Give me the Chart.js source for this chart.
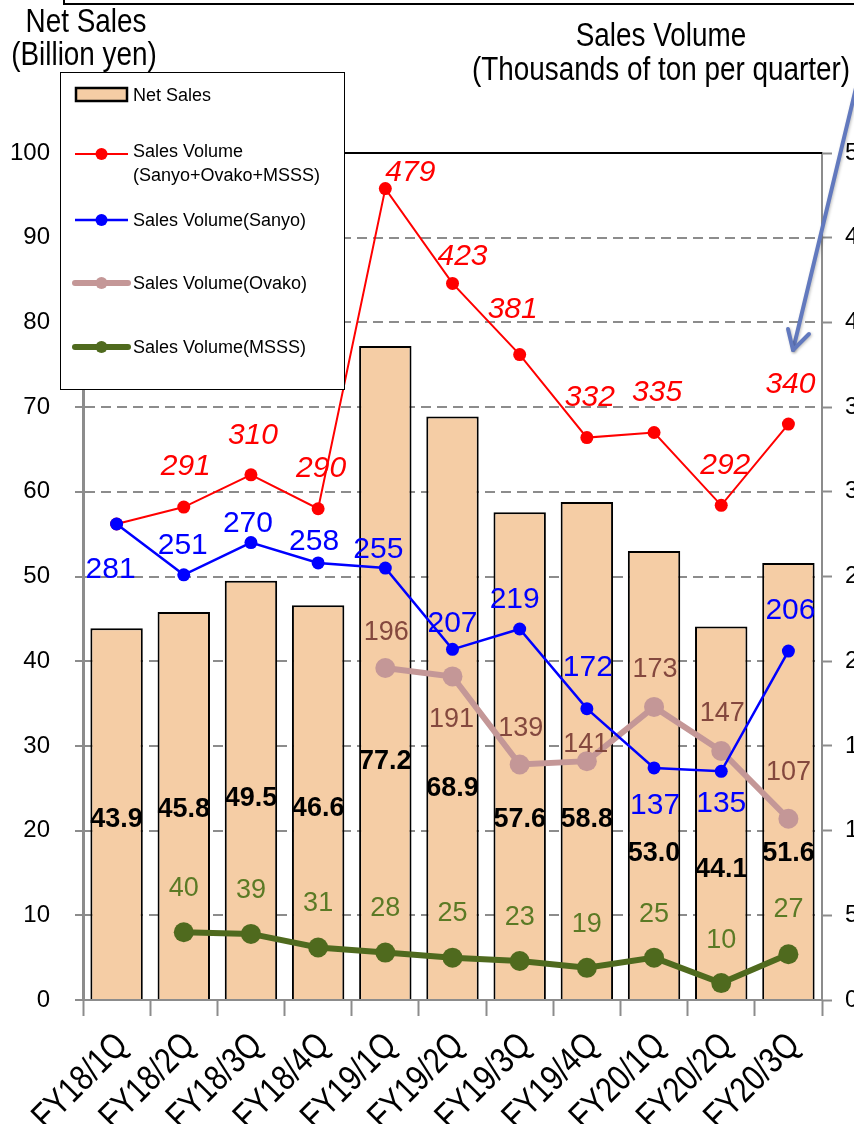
<!DOCTYPE html>
<html>
<head>
<meta charset="utf-8">
<script src="https://cdn.jsdelivr.net/npm/chart.js@4.4.1/dist/chart.umd.min.js"></script>
<style>
  html, body { margin: 0; padding: 0; background: #fff; overflow: hidden; }
  #wrap { width: 854px; height: 1124px; position: relative; }
</style>
</head>
<body>
<div id="wrap"><canvas id="c" width="854" height="1124"></canvas></div>
<script>
// ---- data ----
const quarters = ['FY18/1Q', 'FY18/2Q', 'FY18/3Q', 'FY18/4Q', 'FY19/1Q', 'FY19/2Q',
                  'FY19/3Q', 'FY19/4Q', 'FY20/1Q', 'FY20/2Q', 'FY20/3Q'];
const netSales     = [43.9, 45.8, 49.5, 46.6, 77.2, 68.9, 57.6, 58.8, 53.0, 44.1, 51.6];
const volumeTotal  = [281, 291, 310, 290, 479, 423, 381, 332, 335, 292, 340];
const volumeSanyo  = [281, 251, 270, 258, 255, 207, 219, 172, 137, 135, 206];
const volumeOvako  = [null, null, null, null, 196, 191, 139, 141, 173, 147, 107];
const volumeMSSS   = [null, 40, 39, 31, 28, 25, 23, 19, 25, 10, 27];
const salesTicks   = [0, 10, 20, 30, 40, 50, 60, 70, 80, 90, 100];
const volumeTicks  = [0, 50, 100, 150, 200, 250, 300, 350, 400, 450, 500];
const salesTitle   = ['Net Sales', '(Billion yen)'];
const volumeTitle  = ['Sales Volume', '(Thousands of ton per quarter)'];

// ---- styling ----
const SANS = "'Liberation Sans', Arial, sans-serif";
const CONDENSE = 0.82;           // horizontal squeeze for the narrow lettering
const AXIS_GREY = '#8c8c8c';
const BAR_FILL = '#F5CDA5';
const RED = '#FF0000', BLUE = '#0000FF';
const OVAKO = '#C49797', OVAKO_TEXT = '#84483E';
const MSSS = '#4F6A1E', MSSS_TEXT = '#5B7A25';

// label nudges in pixels [dx, dy] relative to the point (or bar middle)
const nudgeSales = [[0, 4], [0, 2], [0, 6], [0, 4], [0, 87], [0, 79], [0, 62], [0, 67], [0, 76], [0, 55], [0, 70]];
const nudgeTotal = [[0, 0], [2, -43], [2, -42], [3, -43], [25, -18], [10, -29], [-7, -47], [3, -42], [3, -42], [4, -42], [2, -42]];
const nudgeSanyo = [[-6, 43], [-1, -32], [-3, -21], [-4, -24], [-7, -21], [0, -28], [-5, -32], [1, -43], [1, 35], [0, 30], [2, -43]];
const nudgeOvako = [null, null, null, null, [1, -38], [-1, 41], [1, -38], [-1, -19], [1, -40], [1, -40], [0, -48]];
const nudgeMSSS  = [null, [0, -46], [0, -46], [0, -46], [0, -46], [0, -46], [0, -46], [0, -46], [0, -45], [0, -45], [0, -47]];

function narrowText(ctx, text, x, y, align) {
  ctx.save();
  ctx.translate(x, y);
  ctx.scale(CONDENSE, 1);
  ctx.textAlign = align;
  ctx.fillText(text, 0, 0);
  ctx.restore();
}

const valueLabels = {
  id: 'valueLabels',
  afterDatasetsDraw(chart) {
    const ctx = chart.ctx;
    chart.data.datasets.forEach((ds, di) => {
      const st = ds.valueLabel;
      if (!st) return;
      const meta = chart.getDatasetMeta(di);
      meta.data.forEach((el, i) => {
        const v = ds.data[i];
        if (v == null || (st.skip || []).includes(i)) return;
        const n = st.nudge[i] || [0, 0];
        let x = el.x, y = el.y;
        if (ds.type === 'bar') y = (el.y + el.base) / 2;
        ctx.save();
        ctx.font = st.font;
        ctx.fillStyle = st.color;
        ctx.textAlign = 'center';
        ctx.textBaseline = 'alphabetic';
        ctx.fillText(st.format(v), x + n[0], y + n[1] + st.size * 0.36);
        ctx.restore();
      });
    });
  }
};

const plotFrame = {
  id: 'plotFrame',
  beforeDatasetsDraw(chart) {
    const { ctx, chartArea: a, scales } = chart;
    const yy = scales.y.getPixelForValue(salesTicks[salesTicks.length - 1]);
    ctx.save();
    ctx.strokeStyle = '#000';
    ctx.lineWidth = 2;
    ctx.beginPath();
    ctx.moveTo(a.left, yy);
    ctx.lineTo(a.right, yy);
    ctx.stroke();
    ctx.restore();
  }
};

// slanted quarter names under the category axis
const quarterLabels = {
  id: 'quarterLabels',
  afterDraw(chart) {
    const ctx = chart.ctx;
    const xs = chart.scales.x;
    ctx.save();
    ctx.fillStyle = '#000';
    ctx.font = '36px ' + SANS;
    ctx.textBaseline = 'middle';
    quarters.forEach((q, i) => {
      const px = xs.getPixelForValue(i);
      ctx.save();
      ctx.translate(px + 6, xs.top + 40);
      ctx.rotate(-Math.PI / 4);
      ctx.scale(CONDENSE, 1);
      ctx.textAlign = 'right';
      ctx.fillText(q, 0, 0);
      ctx.restore();
    });
    ctx.restore();
  }
};

const boxLegend = {
  id: 'boxLegend',
  afterDraw(chart) {
    const ctx = chart.ctx;
    const bx = 60, by = 72, bw = 284, bh = 317;
    ctx.save();
    ctx.fillStyle = '#fff';
    ctx.fillRect(bx, by, bw, bh);
    ctx.strokeStyle = '#000';
    ctx.lineWidth = 1;
    ctx.strokeRect(bx + 0.5, by + 0.5, bw, bh);
    const rows = [95, 154, 220, 283, 347];
    ctx.font = '18px ' + SANS;
    ctx.textBaseline = 'middle';
    ctx.textAlign = 'left';
    chart.data.datasets.forEach((ds, r) => {
      const cy = rows[r];
      if (ds.type === 'bar') {
        ctx.fillStyle = ds.backgroundColor;
        ctx.fillRect(76, cy - 7, 51, 13);
        ctx.strokeStyle = '#000';
        ctx.lineWidth = 2.5;
        ctx.strokeRect(76, cy - 7, 51, 13);
      } else {
        ctx.strokeStyle = ds.borderColor;
        ctx.lineWidth = ds.borderWidth;
        ctx.lineCap = ds.borderWidth > 3 ? 'round' : 'butt';
        ctx.beginPath();
        ctx.moveTo(75, cy);
        ctx.lineTo(128, cy);
        ctx.stroke();
        ctx.fillStyle = ds.borderColor;
        ctx.beginPath();
        ctx.arc(101.5, cy, 6, 0, Math.PI * 2);
        ctx.fill();
      }
      ctx.fillStyle = '#000';
      const lines = ds.label.split('\n');
      if (lines.length === 1) {
        ctx.fillText(lines[0], 133, cy + 1);
      } else {
        ctx.fillText(lines[0], 133, cy - 2);
        ctx.fillText(lines[1], 133, cy + 22);
      }
    });
    ctx.restore();
  }
};

const decorations = {
  id: 'decorations',
  afterDraw(chart) {
    const ctx = chart.ctx;
    ctx.save();
    // frame edge along the top of the page
    ctx.strokeStyle = '#000';
    ctx.lineWidth = 2;
    ctx.beginPath();
    ctx.moveTo(64, -2);
    ctx.lineTo(64, 4);
    ctx.lineTo(860, 4);
    ctx.stroke();

    // axis titles
    ctx.fillStyle = '#000';
    ctx.textBaseline = 'alphabetic';
    ctx.font = '34px ' + SANS;
    narrowText(ctx, salesTitle[0], 86, 32, 'center');
    narrowText(ctx, salesTitle[1], 84, 65, 'center');
    narrowText(ctx, volumeTitle[0], 661, 46, 'center');
    narrowText(ctx, volumeTitle[1], 661, 80, 'center');

    // pointer arrow toward the volume axis
    ctx.shadowColor = 'rgba(0,0,0,0.25)';
    ctx.shadowBlur = 3;
    ctx.shadowOffsetX = 1;
    ctx.shadowOffsetY = 1;
    ctx.strokeStyle = '#6279BE';
    ctx.lineWidth = 4;
    ctx.lineCap = 'round';
    ctx.lineJoin = 'round';
    ctx.beginPath();
    ctx.moveTo(856, 88);
    ctx.lineTo(793, 350);
    ctx.stroke();
    ctx.beginPath();
    ctx.moveTo(788, 329);
    ctx.lineTo(793, 350);
    ctx.lineTo(809, 334);
    ctx.stroke();
    ctx.restore();
  }
};

const ctx = document.getElementById('c').getContext('2d');
new Chart(ctx, {
  data: {
    labels: quarters,
    datasets: [
      {
        type: 'bar', label: 'Net Sales', data: netSales, yAxisID: 'y', order: 5,
        backgroundColor: BAR_FILL, borderColor: '#000', borderWidth: 2, borderSkipped: 'start',
        barPercentage: 0.78, categoryPercentage: 1.0,
        valueLabel: { font: 'bold 27px ' + SANS, size: 27, color: '#000', nudge: nudgeSales, format: v => v.toFixed(1) }
      },
      {
        type: 'line', label: 'Sales Volume\n(Sanyo+Ovako+MSSS)', data: volumeTotal, yAxisID: 'y2', order: 2,
        borderColor: RED, backgroundColor: RED, borderWidth: 2, pointRadius: 6.5, pointBorderWidth: 0,
        pointBackgroundColor: RED, tension: 0,
        valueLabel: { font: 'italic 30px ' + SANS, size: 30, color: RED, nudge: nudgeTotal, skip: [0], format: v => String(v) }
      },
      {
        type: 'line', label: 'Sales Volume(Sanyo)', data: volumeSanyo, yAxisID: 'y2', order: 1,
        borderColor: BLUE, backgroundColor: BLUE, borderWidth: 2.5, pointRadius: 6.5, pointBorderWidth: 0,
        pointBackgroundColor: BLUE, tension: 0,
        valueLabel: { font: '30px ' + SANS, size: 30, color: BLUE, nudge: nudgeSanyo, format: v => String(v) }
      },
      {
        type: 'line', label: 'Sales Volume(Ovako)', data: volumeOvako, yAxisID: 'y2', order: 3,
        borderColor: OVAKO, backgroundColor: OVAKO, borderWidth: 6, pointRadius: 10, pointBorderWidth: 0,
        pointBackgroundColor: OVAKO, tension: 0,
        valueLabel: { font: '27px ' + SANS, size: 27, color: OVAKO_TEXT, nudge: nudgeOvako, format: v => String(v) }
      },
      {
        type: 'line', label: 'Sales Volume(MSSS)', data: volumeMSSS, yAxisID: 'y2', order: 4,
        borderColor: MSSS, backgroundColor: MSSS, borderWidth: 6, pointRadius: 10, pointBorderWidth: 0,
        pointBackgroundColor: MSSS, tension: 0,
        valueLabel: { font: '27px ' + SANS, size: 27, color: MSSS_TEXT, nudge: nudgeMSSS, format: v => String(v) }
      }
    ]
  },
  options: {
    responsive: false,
    animation: false,
    devicePixelRatio: 1,
    layout: { padding: { top: 153, left: 0, right: 0, bottom: 0 } },
    plugins: { legend: { display: false }, tooltip: { enabled: false }, title: { display: false } },
    scales: {
      x: {
        type: 'category',
        offset: true,
        grid: { offset: true, drawOnChartArea: false, drawTicks: true, tickLength: 16, tickColor: AXIS_GREY, tickWidth: 2 },
        border: { color: AXIS_GREY, width: 2 },
        ticks: { display: false, autoSkip: false },
        afterFit: s => { s.height = 124; }
      },
      y: {
        position: 'left',
        min: 0, max: 100,
        afterBuildTicks: s => { s.ticks = salesTicks.map(v => ({ value: v })); },
        grid: {
          color: c => (c.tick && (c.tick.value === 0 || c.tick.value === 100)) ? 'rgba(0,0,0,0)' : AXIS_GREY,
          lineWidth: 2, drawTicks: true, tickLength: 8, tickColor: AXIS_GREY, tickWidth: 2
        },
        border: { color: AXIS_GREY, width: 3, dash: [10, 6] },
        ticks: { color: '#000', padding: 25, font: { family: SANS, size: 24 } },
        afterFit: s => { s.width = 83; }
      },
      y2: {
        position: 'right',
        min: 0, max: 500,
        afterBuildTicks: s => { s.ticks = volumeTicks.map(v => ({ value: v })); },
        grid: { drawOnChartArea: false, drawTicks: true, tickLength: 10, tickColor: AXIS_GREY, tickWidth: 2 },
        border: { color: AXIS_GREY, width: 2 },
        ticks: { color: '#000', padding: 13, font: { family: SANS, size: 24 } },
        afterFit: s => { s.width = 32; }
      }
    }
  },
  plugins: [plotFrame, valueLabels, quarterLabels, boxLegend, decorations]
});
</script>
</body>
</html>
